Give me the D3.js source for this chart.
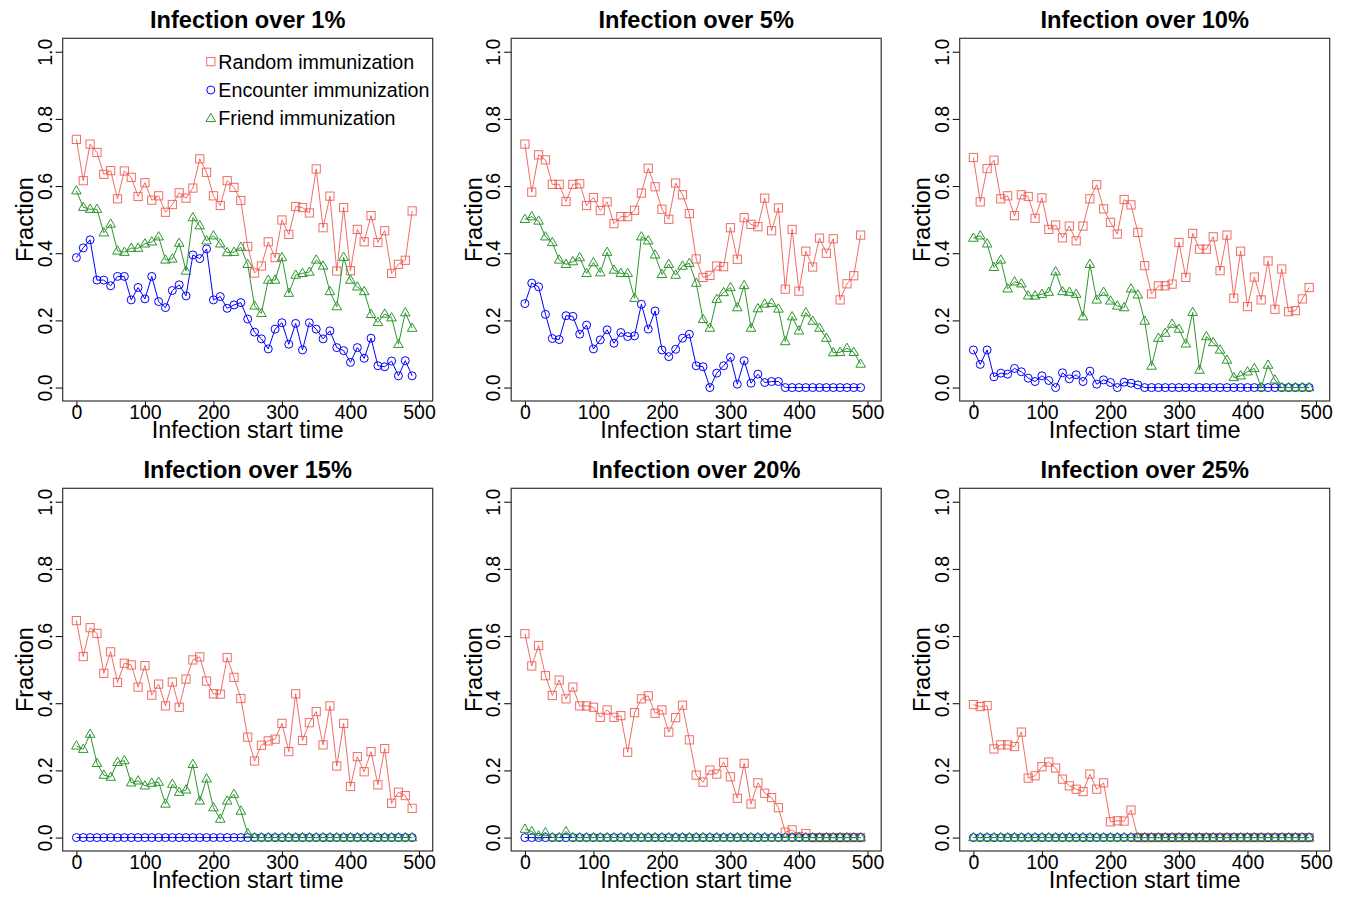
<!DOCTYPE html>
<html>
<head>
<meta charset="utf-8">
<title>Immunization by infection threshold</title>
<script src="https://cdn.jsdelivr.net/npm/d3@7"></script>
<style>
  html, body { margin: 0; padding: 0; background: #fff; }
  svg { display: block; font-family: "Liberation Sans", Arial, sans-serif; }
</style>
</head>
<body>
<script>
// infection start times (x)
var times = [0,10,20,30,40,50,60,70,80,90,100,110,120,130,140,150,160,170,180,190,
  200,210,220,230,240,250,260,270,280,290,300,310,320,330,340,350,360,370,380,390,
  400,410,420,430,440,450,460,470,480,490];

var xTicks = [0, 100, 200, 300, 400, 500];
var yTicks = [0, 0.2, 0.4, 0.6, 0.8, 1.0];

var titles = ["Infection over 1%", "Infection over 5%", "Infection over 10%",
  "Infection over 15%", "Infection over 20%", "Infection over 25%"];
var seriesNames = ["Random immunization", "Encounter immunization", "Friend immunization"];

var allZero = [0,0,0,0,0,0,0,0,0,0,0,0,0,0,0,0,0,0,0,0,0,0,0,0,0,
  0,0,0,0,0,0,0,0,0,0,0,0,0,0,0,0,0,0,0,0,0,0,0,0,0];

// over 1%
var random1 = [0.739,0.616,0.725,0.700,0.635,0.646,0.562,0.645,0.626,0.569,0.610,0.558,0.571,0.522,0.545,0.580,0.564,0.594,0.681,0.641,
  0.571,0.542,0.616,0.596,0.557,0.420,0.341,0.362,0.434,0.387,0.499,0.456,0.539,0.536,0.520,0.651,0.476,0.570,0.347,0.536,
  0.348,0.471,0.434,0.512,0.432,0.467,0.340,0.367,0.379,0.526];
var encounter1 = [0.387,0.416,0.440,0.320,0.320,0.303,0.331,0.331,0.261,0.298,0.264,0.331,0.256,0.238,0.289,0.306,0.273,0.395,0.384,0.413,
  0.261,0.271,0.236,0.246,0.253,0.204,0.165,0.145,0.115,0.174,0.193,0.129,0.191,0.112,0.193,0.174,0.145,0.169,0.119,0.110,
  0.075,0.119,0.087,0.147,0.065,0.062,0.079,0.035,0.080,0.035];
var friend1 = [0.586,0.537,0.531,0.531,0.461,0.487,0.407,0.403,0.415,0.415,0.428,0.434,0.449,0.380,0.383,0.430,0.347,0.506,0.482,0.437,
  0.452,0.428,0.402,0.403,0.418,0.367,0.243,0.221,0.320,0.320,0.387,0.281,0.335,0.340,0.344,0.380,0.362,0.286,0.241,0.388,
  0.320,0.300,0.286,0.218,0.194,0.219,0.208,0.129,0.223,0.177];

// over 5%
var random5 = [0.725,0.582,0.693,0.678,0.605,0.605,0.554,0.605,0.607,0.542,0.566,0.527,0.553,0.488,0.509,0.509,0.528,0.579,0.653,0.598,
  0.531,0.501,0.609,0.574,0.518,0.383,0.328,0.334,0.362,0.360,0.476,0.382,0.506,0.486,0.479,0.564,0.467,0.535,0.293,0.471,
  0.287,0.406,0.359,0.445,0.400,0.443,0.261,0.309,0.333,0.454];
var encounter5 = [0.250,0.311,0.300,0.218,0.146,0.143,0.214,0.212,0.159,0.186,0.115,0.142,0.172,0.132,0.164,0.152,0.154,0.248,0.174,0.228,
  0.112,0.092,0.114,0.147,0.159,0.065,0.062,0.000,0.043,0.065,0.090,0.010,0.080,0.013,0.040,0.015,0.018,0.018,0,0,
  0,0,0,0,0,0,0,0,0,0];
var friend5 = [0.501,0.509,0.496,0.449,0.432,0.380,0.367,0.375,0.387,0.340,0.372,0.342,0.403,0.350,0.340,0.340,0.266,0.449,0.437,0.395,
  0.337,0.367,0.335,0.362,0.370,0.311,0.203,0.177,0.263,0.283,0.298,0.238,0.304,0.177,0.235,0.249,0.251,0.234,0.137,0.211,
  0.169,0.223,0.198,0.177,0.147,0.104,0.105,0.117,0.105,0.070];

// over 10%
var random10 = [0.685,0.553,0.652,0.677,0.562,0.571,0.512,0.574,0.569,0.504,0.565,0.471,0.484,0.446,0.481,0.437,0.481,0.562,0.604,0.532,
  0.492,0.457,0.560,0.544,0.462,0.363,0.279,0.303,0.303,0.308,0.432,0.328,0.459,0.412,0.412,0.449,0.348,0.454,0.266,0.406,
  0.241,0.329,0.261,0.377,0.233,0.353,0.226,0.229,0.264,0.298];
var encounter10 = [0.112,0.069,0.112,0.032,0.043,0.040,0.057,0.047,0.028,0.018,0.035,0.021,0.000,0.044,0.026,0.038,0.018,0.049,0.010,0.023,
  0.015,0.000,0.016,0.013,0.008,0,0,0,0,0,0,0,0,0,0,0,0,0,0,0,
  0,0,0,0,0,0,0,0,0,0];
var friend10 = [0.445,0.452,0.428,0.358,0.380,0.294,0.315,0.309,0.273,0.273,0.278,0.284,0.345,0.286,0.284,0.278,0.211,0.367,0.261,0.284,
  0.258,0.243,0.238,0.294,0.276,0.198,0.064,0.147,0.162,0.189,0.174,0.130,0.224,0.052,0.152,0.134,0.112,0.082,0.030,0.035,
  0.047,0.057,0.000,0.067,0.023,0,0,0,0,0];

// over 15%
var random15 = [0.646,0.539,0.625,0.608,0.489,0.553,0.462,0.519,0.514,0.448,0.512,0.424,0.457,0.392,0.463,0.388,0.472,0.529,0.538,0.466,
  0.428,0.427,0.536,0.477,0.414,0.299,0.228,0.275,0.288,0.293,0.340,0.256,0.428,0.289,0.342,0.375,0.276,0.392,0.213,0.340,
  0.152,0.241,0.196,0.256,0.157,0.265,0.102,0.135,0.125,0.087];
var encounter15 = allZero;
var friend15 = [0.273,0.263,0.308,0.221,0.186,0.180,0.224,0.229,0.163,0.169,0.154,0.162,0.165,0.100,0.159,0.135,0.142,0.218,0.109,0.175,
  0.089,0.055,0.109,0.129,0.079,0.012,0,0,0,0,0,0,0,0,0,0,0,0,0,0,
  0,0,0,0,0,0,0,0,0,0];

// over 20%
var random20 = [0.607,0.511,0.572,0.482,0.423,0.469,0.413,0.448,0.392,0.392,0.388,0.358,0.380,0.358,0.363,0.254,0.372,0.413,0.422,0.370,
  0.380,0.314,0.357,0.394,0.291,0.186,0.165,0.201,0.189,0.224,0.181,0.117,0.221,0.100,0.163,0.132,0.119,0.089,0.016,0.023,
  0.003,0.012,0,0,0,0,0,0,0,0];
var encounter20 = allZero;
var friend20 = [0.025,0.018,0.005,0.015,0,0,0.018,0,0,0,0,0,0,0,0,0,0,0,0,0,
  0,0,0,0,0,0,0,0,0,0,0,0,0,0,0,0,0,0,0,0,
  0,0,0,0,0,0,0,0,0,0];

// over 25%
var random25 = [0.396,0.390,0.393,0.264,0.276,0.276,0.271,0.314,0.177,0.184,0.211,0.225,0.207,0.174,0.154,0.144,0.137,0.189,0.144,0.163,
  0.047,0.050,0.049,0.082,0,0,0,0,0,0,0,0,0,0,0,0,0,0,0,0,
  0,0,0,0,0,0,0,0,0,0];
var encounter25 = allZero;
var friend25 = allZero;

var panels = [
  { title: titles[0], series: [random1, encounter1, friend1], legend: true },
  { title: titles[1], series: [random5, encounter5, friend5] },
  { title: titles[2], series: [random10, encounter10, friend10] },
  { title: titles[3], series: [random15, encounter15, friend15] },
  { title: titles[4], series: [random20, encounter20, friend20] },
  { title: titles[5], series: [random25, encounter25, friend25] }
];

var colors = ["rgba(238,84,74,0.85)", "#0000ff", "#2e962e"];
var shapes = ["square", "circle", "triangle"];

var W = 1350, H = 900;
var colW = 448.5, rowH = 450;
var box = { left: 62.7, right: 432.7, top: 38.3, bottom: 401 };

var svg = d3.select("body").append("svg")
  .attr("width", W)
  .attr("height", H);

var x = d3.scaleLinear().domain([-20, 520]).range([box.left, box.right]);
var y = d3.scaleLinear().domain([-0.04, 1.04]).range([box.bottom, box.top]);

function marker(sel, shape, color) {
  if (shape === "square") {
    sel.append("rect")
      .attr("x", -4.1).attr("y", -4.1)
      .attr("width", 8.2).attr("height", 8.2)
      .attr("fill", "none").attr("stroke", color).attr("stroke-width", 1);
  } else if (shape === "circle") {
    sel.append("circle")
      .attr("r", 4)
      .attr("fill", "none").attr("stroke", color).attr("stroke-width", 1);
  } else {
    var s = 9.6, h = s * 0.866;
    sel.append("path")
      .attr("d", "M0," + (-h * 0.62) + "L" + (s / 2) + "," + (h * 0.38) + "L" + (-s / 2) + "," + (h * 0.38) + "Z")
      .attr("fill", "none").attr("stroke", color).attr("stroke-width", 1);
  }
}

panels.forEach(function (p, k) {
  var g = svg.append("g")
    .attr("transform", "translate(" + ((k % 3) * colW) + "," + (Math.floor(k / 3) * rowH) + ")");

  var cx = (box.left + box.right) / 2;

  g.append("text")
    .attr("x", cx).attr("y", 28.3)
    .attr("text-anchor", "middle")
    .style("font-size", "23.6px").style("font-weight", "bold")
    .text(p.title);

  // x axis
  var ax = g.append("g")
    .attr("transform", "translate(0," + box.bottom + ")")
    .call(d3.axisBottom(x).tickValues(xTicks).tickSize(7).tickFormat(d3.format("d")));
  ax.select(".domain").remove();
  ax.selectAll("line").attr("stroke", "#000");
  ax.selectAll("text")
    .attr("y", 18.3).attr("dy", 0)
    .attr("fill", "#000")
    .style("font-size", "19.5px")
    .style("font-family", "'Liberation Sans', Arial, sans-serif");

  // y axis
  var ay = g.append("g")
    .attr("transform", "translate(" + box.left + ",0)")
    .call(d3.axisLeft(y).tickValues(yTicks).tickSize(7).tickFormat(d3.format(".1f")));
  ay.select(".domain").remove();
  ay.selectAll("line").attr("stroke", "#000");
  ay.selectAll("text")
    .attr("x", 0).attr("dy", 0)
    .attr("text-anchor", "middle")
    .attr("transform", "translate(-11,0) rotate(-90)")
    .attr("fill", "#000")
    .style("font-size", "19.5px")
    .style("font-family", "'Liberation Sans', Arial, sans-serif");

  // box
  g.append("rect")
    .attr("x", box.left).attr("y", box.top)
    .attr("width", box.right - box.left).attr("height", box.bottom - box.top)
    .attr("fill", "none").attr("stroke", "#333").attr("stroke-width", 1.2);

  g.append("text")
    .attr("x", cx).attr("y", 438)
    .attr("text-anchor", "middle")
    .style("font-size", "23.5px")
    .text("Infection start time");

  g.append("text")
    .attr("transform", "translate(33.3," + ((box.top + box.bottom) / 2) + ") rotate(-90)")
    .attr("text-anchor", "middle")
    .style("font-size", "23.5px")
    .text("Fraction");

  // series: random, encounter, friend
  p.series.forEach(function (vals, s) {
    var pts = times.map(function (t, i) { return [t, vals[i]]; });
    var line = d3.line().x(function (d) { return x(d[0]); }).y(function (d) { return y(d[1]); });
    g.append("path")
      .attr("d", line(pts))
      .attr("fill", "none")
      .attr("stroke", colors[s])
      .attr("stroke-width", 1);
    g.append("g").selectAll("g")
      .data(pts)
      .enter()
      .append("g")
      .attr("transform", function (d) { return "translate(" + x(d[0]) + "," + y(d[1]) + ")"; })
      .each(function () { marker(d3.select(this), shapes[s], colors[s]); });
  });

  if (p.legend) {
    var lg = g.append("g");
    seriesNames.forEach(function (name, s) {
      var ly = 61.6 + s * 28.4;
      var m = lg.append("g").attr("transform", "translate(210.8," + ly + ")");
      marker(m, shapes[s], colors[s]);
      lg.append("text")
        .attr("x", 218.3).attr("y", ly + 7)
        .style("font-size", "19.7px")
        .text(name);
    });
  }
});
</script>
</body>
</html>
